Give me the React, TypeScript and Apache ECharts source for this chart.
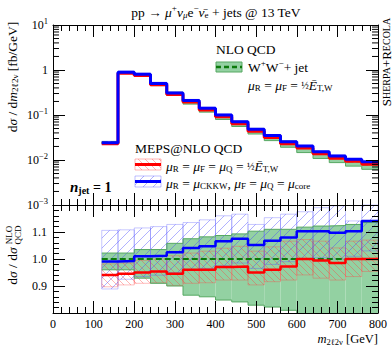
import React, { useEffect, useRef } from 'react';
import * as echarts from 'echarts';

// ---- data ----
const binEdges = [120, 160, 200, 240, 280, 320, 360, 400, 440, 480, 520, 560, 600, 640, 680, 720, 760, 800];
const xTicks = [0, 100, 200, 300, 400, 500, 600, 700, 800];
const logTickLabels = [0.001, 0.01, 0.1, 1, 10];
const ratioTickLabels = [0.9, 1.0, 1.1];

// top panel, dsigma/dm [fb/GeV]
const nloTop = [0.0244, 0.896, 0.792, 0.494, 0.302, 0.2017, 0.1347, 0.0938, 0.066, 0.0456, 0.0328, 0.0237, 0.0185, 0.01378, 0.01121, 0.00943, 0.00806];
const mepsEtTop = [0.023, 0.845, 0.752, 0.471, 0.284, 0.194, 0.1296, 0.091, 0.0642, 0.0435, 0.0315, 0.023, 0.0185, 0.0137, 0.011, 0.00943, 0.00806];
const mepsCkkwTop = [0.0242, 0.89, 0.8, 0.5, 0.31, 0.21, 0.141, 0.1, 0.071, 0.048, 0.035, 0.0256, 0.0204, 0.0152, 0.0123, 0.0104, 0.0092];

// ratio panel
const nloRatioLo = [0.96, 0.96, 0.929, 0.91, 0.9, 0.866, 0.86, 0.848, 0.841, 0.829, 0.822, 0.81, 0.79, 0.785, 0.78, 0.775, 0.77];
const nloRatioHi = [1.022, 1.022, 1.035, 1.035, 1.058, 1.075, 1.082, 1.087, 1.093, 1.103, 1.11, 1.11, 1.118, 1.122, 1.124, 1.128, 1.135];
const etRatio = [0.941, 0.945, 0.95, 0.954, 0.945, 0.96, 0.96, 0.97, 0.972, 0.95, 0.96, 0.972, 1.0, 0.994, 0.985, 1.0, 1.0];
const etRatioLo = [0.897, 0.904, 0.91, 0.912, 0.902, 0.91, 0.912, 0.922, 0.922, 0.904, 0.916, 0.922, 0.941, 0.929, 0.922, 0.935, 0.954];
const etRatioHi = [0.982, 0.985, 0.995, 1.0, 1.012, 1.022, 1.029, 1.04, 1.047, 1.029, 1.045, 1.066, 1.072, 1.066, 1.041, 1.066, 1.07];
const ckkwRatio = [0.991, 0.993, 1.01, 1.012, 1.025, 1.041, 1.047, 1.066, 1.075, 1.052, 1.068, 1.08, 1.103, 1.103, 1.097, 1.103, 1.141];
const ckkwRatioLo = [0.889, 0.925, 0.935, 0.94, 0.95, 0.96, 0.965, 0.975, 0.985, 0.965, 0.98, 0.99, 1.0, 1.005, 1.0, 1.01, 1.03];
const ckkwRatioHi = [1.106, 1.108, 1.115, 1.12, 1.128, 1.135, 1.145, 1.16, 1.166, 1.128, 1.153, 1.166, 1.175, 1.19, 1.197, 1.141, 1.23];
const nloRatio = [1, 1, 1, 1, 1, 1, 1, 1, 1, 1, 1, 1, 1, 1, 1, 1, 1];

const F = "'Liberation Serif', 'DejaVu Serif', serif";
const GREEN_FILL = '#93d1a2';
const GREEN_EDGE = '#56a862';
const GREEN_DASH = '#0c7a0c';
const BLUE = '#0000ff';
const RED = '#ff0000';
const BLUE_HATCH = 'rgba(70,70,255,0.42)';
const RED_HATCH = 'rgba(255,60,60,0.38)';

const stepData = (vals: number[]) => binEdges.map((e, i) => [e, vals[Math.min(i, vals.length - 1)]]);
const bandData = (lo: number[], hi: number[]) => lo.map((l, i) => [binEdges[i], binEdges[i + 1], l, hi[i]]);
const scaled = (base: number[], r: number[]) => base.map((b, i) => b * r[i]);

function hatchLines(xa: number, ya: number, xb: number, yb: number, dir: 'fwd' | 'back', s: number, color: string) {
  const out: any[] = [];
  if (dir === 'fwd') {
    const cMin = Math.ceil((xa + ya) / s) * s;
    for (let c = cMin; c <= xb + yb; c += s) {
      const x1 = Math.max(xa, c - yb);
      const x2 = Math.min(xb, c - ya);
      if (x2 - x1 < 0.3) continue;
      out.push({ type: 'line', shape: { x1, y1: c - x1, x2, y2: c - x2 }, style: { stroke: color, lineWidth: 1 }, silent: true });
    }
  } else {
    const cMin = Math.ceil((ya - xb) / s) * s;
    for (let c = cMin; c <= yb - xa; c += s) {
      const x1 = Math.max(xa, ya - c);
      const x2 = Math.min(xb, yb - c);
      if (x2 - x1 < 0.3) continue;
      out.push({ type: 'line', shape: { x1, y1: x1 + c, x2, y2: x2 + c }, style: { stroke: color, lineWidth: 1 }, silent: true });
    }
  }
  return out;
}

function bandRender(fill: string, stroke: string, hatch?: 'fwd' | 'back', hatchColor?: string, spacing?: number) {
  return (params: any, api: any) => {
    const cs = params.coordSys;
    const p0 = api.coord([api.value(0), api.value(3)]);
    const p1 = api.coord([api.value(1), api.value(2)]);
    const xa = Math.max(Math.min(p0[0], p1[0]), cs.x);
    const xb = Math.min(Math.max(p0[0], p1[0]), cs.x + cs.width);
    const ya = Math.max(Math.min(p0[1], p1[1]), cs.y);
    const yb = Math.min(Math.max(p0[1], p1[1]), cs.y + cs.height);
    if (xb <= xa || yb <= ya) return null;
    const children: any[] = [
      { type: 'rect', shape: { x: xa, y: ya, width: xb - xa, height: yb - ya }, style: { fill, stroke, lineWidth: 1 } },
    ];
    if (hatch) children.push(...hatchLines(xa, ya, xb, yb, hatch, spacing || 8, hatchColor || '#000'));
    return { type: 'group', children };
  };
}

const minorLogValues: number[] = [];
for (let k = -3; k <= 0; k++) for (let m = 2; m <= 9; m++) minorLogValues.push(m * Math.pow(10, k));

const axisLine = { show: true, onZero: false, lineStyle: { color: '#000', width: 1 } };
const tickStyle = { color: '#000', width: 1 };

const rich: any = {
  i: { fontStyle: 'italic', fontFamily: F, fontSize: 13.5 },
  sup: { fontFamily: F, fontSize: 9, padding: [0, 0, 9, 0] },
  sub: { fontFamily: F, fontSize: 9, padding: [6, 0, 0, 0] },
  isub: { fontFamily: F, fontSize: 9, fontStyle: 'italic', padding: [6, 0, 0, 0] },
  frac: { fontFamily: F, fontSize: 10 },
};

function txt(x: number, y: number, text: string, extra: any = {}, rot = 0) {
  return {
    type: 'text', x, y, rotation: rot, silent: true, z: 20,
    style: {
      text, rich, fontFamily: F, fontSize: 13.5, fill: '#000',
      align: extra.align || 'left', verticalAlign: 'middle',
      textAlign: extra.align || 'left', textVerticalAlign: 'middle',
      ...extra,
    },
  };
}

function buildOption() {
  const lineSeries = (name: string, vals: number[], color: string, width: number, gi: number, dashed = false) => ({
    name, type: 'line', xAxisIndex: gi === 0 ? 0 : 2, yAxisIndex: gi === 0 ? 0 : 2,
    data: stepData(vals), step: 'end', symbol: 'none', silent: true,
    lineStyle: { color, width, type: dashed ? [6, 3] : 'solid' },
  });
  const band = (vals: any[], gi: number, render: any) => ({
    type: 'custom', xAxisIndex: gi === 0 ? 0 : 2, yAxisIndex: gi === 0 ? 0 : 2,
    data: vals, renderItem: render, silent: true,
  });

  const series: any[] = [
    // top panel
    band(bandData(scaled(nloTop, nloRatioLo), scaled(nloTop, nloRatioHi)), 0, bandRender(GREEN_FILL, 'none')),
    lineSeries('nloHiTop', scaled(nloTop, nloRatioHi), GREEN_EDGE, 1, 0),
    lineSeries('nloLoTop', scaled(nloTop, nloRatioLo), GREEN_EDGE, 1, 0),
    band(bandData(scaled(nloTop, etRatioLo), scaled(nloTop, etRatioHi)), 0, bandRender('rgba(255,110,110,0.35)', 'none')),
    band(bandData(scaled(nloTop, ckkwRatioLo), scaled(nloTop, ckkwRatioHi)), 0, bandRender('rgba(110,110,255,0.35)', 'none')),
    lineSeries('nloTop', nloTop, GREEN_DASH, 2, 0, true),
    lineSeries('etTop', mepsEtTop, RED, 3, 0),
    lineSeries('ckkwTop', mepsCkkwTop, BLUE, 3, 0),
    // ratio panel
    band(bandData(nloRatioLo, nloRatioHi), 1, bandRender(GREEN_FILL, 'none')),
    lineSeries('nloHi', nloRatioHi, GREEN_EDGE, 1, 1),
    lineSeries('nloLo', nloRatioLo, GREEN_EDGE, 1, 1),
    band(bandData(etRatioLo, etRatioHi), 1, bandRender('rgba(0,0,0,0)', 'rgba(255,70,70,0.35)', 'back', RED_HATCH, 7)),
    band(bandData(ckkwRatioLo, ckkwRatioHi), 1, bandRender('rgba(0,0,0,0)', 'rgba(70,70,255,0.3)', 'fwd', BLUE_HATCH, 10)),
    lineSeries('nlo', nloRatio, GREEN_DASH, 2, 1, true),
    lineSeries('et', etRatio, RED, 2.5, 1),
    lineSeries('ckkw', ckkwRatio, BLUE, 2.5, 1),
    // minor log ticks
    {
      type: 'custom', xAxisIndex: 0, yAxisIndex: 0, silent: true, z: 12,
      data: minorLogValues.map((v) => [0, v]),
      renderItem: (params: any, api: any) => {
        const cs = params.coordSys;
        const y = api.coord([0, api.value(1)])[1];
        return {
          type: 'group',
          children: [
            { type: 'line', shape: { x1: cs.x, y1: y, x2: cs.x + 6, y2: y }, style: { stroke: '#000', lineWidth: 1 } },
            { type: 'line', shape: { x1: cs.x + cs.width - 6, y1: y, x2: cs.x + cs.width, y2: y }, style: { stroke: '#000', lineWidth: 1 } },
          ],
        };
      },
    },
  ];

  const xBase = (gi: number, pos: 'top' | 'bottom', labels: boolean, major: number, minor: number) => ({
    gridIndex: gi, type: 'value', min: xTicks[0], max: xTicks[xTicks.length - 1], interval: xTicks[1] - xTicks[0], position: pos, z: 10,
    axisLine, splitLine: { show: false },
    axisTick: { show: true, inside: true, length: major, lineStyle: tickStyle },
    minorTick: { show: true, splitNumber: 5, length: minor, lineStyle: tickStyle },
    axisLabel: labels ? { show: true, margin: 5, fontFamily: F, fontSize: 12, color: '#000' } : { show: false },
  });

  const logFmt = (v: number) => {
    const e = Math.round(Math.log10(v));
    if (!logTickLabels.some((t) => Math.abs(Math.log10(t) - e) < 1e-6)) return '';
    if (e === 0) return '1';
    return '10{sup|' + (e < 0 ? '−' : '') + Math.abs(e) + '}';
  };
  const ratioFmt = (v: number) => {
    const r = Math.round(v * 10) / 10;
    return ratioTickLabels.some((t) => Math.abs(t - r) < 1e-6) ? r.toFixed(1) : '';
  };

  const yLog = (pos: 'left' | 'right', labels: boolean) => ({
    gridIndex: 0, type: 'log', logBase: 10, min: logTickLabels[0], max: logTickLabels[logTickLabels.length - 1], position: pos, z: 10,
    axisLine, splitLine: { show: false },
    axisTick: { show: true, inside: true, length: 12, lineStyle: tickStyle },
    minorTick: { show: false },
    axisLabel: labels
      ? { show: true, margin: 5, formatter: logFmt, fontFamily: F, fontSize: 12, color: '#000', rich: { sup: { fontFamily: F, fontSize: 8.5, padding: [0, 0, 8, 0] } } }
      : { show: false },
  });
  const yRatio = (pos: 'left' | 'right', labels: boolean) => ({
    gridIndex: 1, type: 'value', min: 0.8, max: 1.2, interval: 0.1, position: pos, z: 10,
    axisLine, splitLine: { show: false },
    axisTick: { show: true, inside: true, length: 12, lineStyle: tickStyle },
    minorTick: { show: true, splitNumber: 5, length: 6, lineStyle: tickStyle },
    axisLabel: labels ? { show: true, margin: 6, formatter: ratioFmt, fontFamily: F, fontSize: 12, color: '#000' } : { show: false },
  });

  const graphic: any[] = [
    txt(216, 12, 'pp → {i|μ}{sup|+}{i|ν}{isub|μ}e{sup|−}{i|ν̄}{sub|e} + jets @ 13 TeV', { align: 'center' }),
    txt(12, 77, 'd{i|σ} / d{i|m}{sub|2ℓ2ν} [fb/GeV]', { align: 'center' }, Math.PI / 2),
    txt(12.5, 266, 'd{i|σ} / d{i|σ}', { align: 'center' }, Math.PI / 2),
    txt(9, 235, 'NLO', { align: 'center', fontSize: 9 }, Math.PI / 2),
    txt(18, 235, 'QCD', { align: 'center', fontSize: 9 }, Math.PI / 2),
    {
      type: 'text', x: 378, y: 339, silent: true, z: 20,
      style: {
        text: '{i|m}{s|2ℓ2ν} [GeV]', fill: '#000', align: 'right', verticalAlign: 'middle', textAlign: 'right', textVerticalAlign: 'middle',
        fontFamily: F, fontSize: 12.5,
        rich: { i: { fontFamily: F, fontSize: 12.5, fontStyle: 'italic' }, s: { fontFamily: F, fontSize: 8.5, padding: [5, 0, 0, 0] } },
      },
    },
    {
      type: 'text', x: 386, y: 62, rotation: Math.PI / 2, silent: true, z: 20,
      style: {
        text: '{big|S}{sc|HERPA}{big|+R}{sc|ECOLA}', fill: '#000', align: 'center', verticalAlign: 'middle',
        textAlign: 'center', textVerticalAlign: 'middle', fontFamily: F, fontSize: 13,
        rich: { big: { fontFamily: F, fontSize: 13 }, sc: { fontFamily: F, fontSize: 10 } },
      },
    },
    // NLO legend
    txt(216, 49, 'NLO QCD'),
    { type: 'rect', shape: { x: 216, y: 62, width: 26, height: 10 }, style: { fill: GREEN_FILL, stroke: GREEN_EDGE, lineWidth: 1 }, z: 20 },
    { type: 'line', shape: { x1: 216, y1: 67, x2: 242, y2: 67 }, style: { stroke: GREEN_DASH, lineWidth: 2.5, lineDash: [5, 3] }, z: 21 },
    txt(248, 67, 'W{sup|+}W{sup|−}+ jet'),
    txt(248, 85, '{i|μ}{sub|R} = {i|μ}{sub|F} = {frac|½}{i|Ē}{sub|T,W}'),
    // MEPS legend
    txt(135, 148, 'MEPS@NLO QCD'),
    { type: 'rect', shape: { x: 135, y: 159, width: 26, height: 11 }, style: { fill: 'none', stroke: 'rgba(255,70,70,0.4)', lineWidth: 1 }, z: 20 },
    ...hatchLines(135, 159, 161, 170, 'back', 7, RED_HATCH).map((e) => ({ ...e, z: 20 })),
    { type: 'line', shape: { x1: 135, y1: 164.5, x2: 161, y2: 164.5 }, style: { stroke: RED, lineWidth: 3 }, z: 21 },
    txt(166, 166, '{i|μ}{sub|R} = {i|μ}{sub|F} = {i|μ}{sub|Q} = {frac|½}{i|Ē}{sub|T,W}'),
    { type: 'rect', shape: { x: 135, y: 176, width: 26, height: 11 }, style: { fill: 'none', stroke: 'rgba(70,70,255,0.35)', lineWidth: 1 }, z: 20 },
    ...hatchLines(135, 176, 161, 187, 'fwd', 10, BLUE_HATCH).map((e) => ({ ...e, z: 20 })),
    { type: 'line', shape: { x1: 135, y1: 181.5, x2: 161, y2: 181.5 }, style: { stroke: BLUE, lineWidth: 3 }, z: 21 },
    txt(166, 183, '{i|μ}{sub|R} = {i|μ}{sub|CKKW}, {i|μ}{sub|F} = {i|μ}{sub|Q} = {i|μ}{sub|core}'),
    // n_jet
    {
      type: 'text', x: 70, y: 187, silent: true, z: 20,
      style: {
        text: '{n|n}{s|jet}{b| = 1}', fill: '#000', align: 'left', verticalAlign: 'middle', textAlign: 'left', textVerticalAlign: 'middle',
        fontFamily: F, fontSize: 14, fontWeight: 'bold',
        rich: {
          n: { fontFamily: F, fontSize: 15, fontWeight: 'bold', fontStyle: 'italic' },
          s: { fontFamily: F, fontSize: 10, fontWeight: 'bold', padding: [6, 0, 0, 0] },
          b: { fontFamily: F, fontSize: 14, fontWeight: 'bold' },
        },
      },
    },
  ];

  return {
    animation: false,
    backgroundColor: '#fff',
    textStyle: { fontFamily: F },
    grid: [
      { left: 53, top: 25, width: 325, height: 180 },
      { left: 53, top: 205, width: 325, height: 108 },
    ],
    xAxis: [xBase(0, 'bottom', false, 12, 6), xBase(0, 'top', false, 12, 6), xBase(1, 'bottom', true, 12, 6), xBase(1, 'top', false, 12, 6)],
    yAxis: [yLog('left', true), yLog('right', false), yRatio('left', true), yRatio('right', false)],
    series,
    graphic,
  };
}

export default function App() {
  const ref = useRef<HTMLDivElement>(null);
  useEffect(() => {
    if (!ref.current) return;
    const chart = echarts.init(ref.current, null, { renderer: 'svg' });
    chart.setOption(buildOption() as any);
    return () => chart.dispose();
  }, []);
  return <div ref={ref} style={{ position: 'fixed', left: 0, top: 0, width: 392, height: 350, background: '#fff' }} />;
}
